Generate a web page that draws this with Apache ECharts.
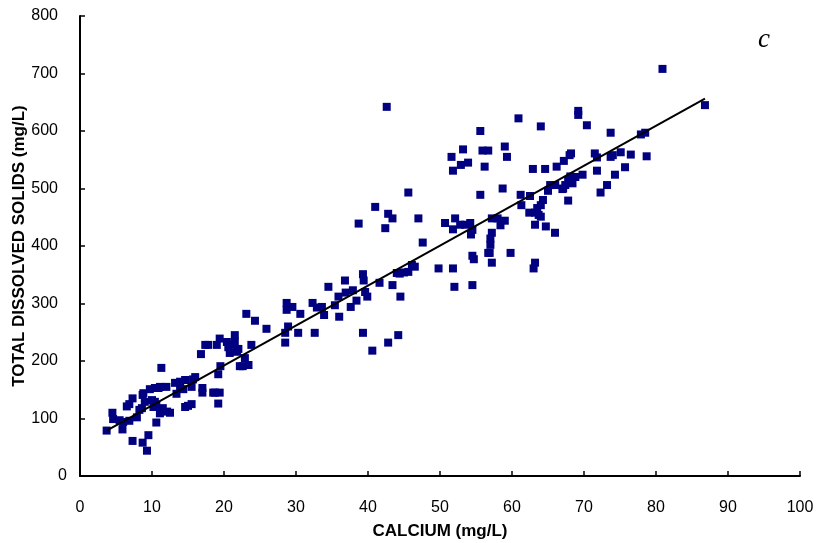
<!DOCTYPE html>
<html>
<head>
<meta charset="utf-8">
<script src="https://cdn.jsdelivr.net/npm/echarts@6/dist/echarts.min.js"></script>
<style>html,body{margin:0;padding:0;background:#fff}#c{width:816px;height:543px}</style>
</head>
<body>
<div id="c"></div>
<script>
// Calcium (mg/L)
const calcium = [3.7,4.5,4.6,5.5,5.9,6.0,6.5,6.85,6.85,7.3,7.3,7.9,8.25,8.6,8.7,8.7,8.8,9.0,9.3,9.5,9.7,10.0,10.2,10.4,10.4,10.6,10.6,10.9,11.1,11.1,11.3,11.5,11.3,12.0,12.1,12.5,13.2,13.4,13.9,13.9,14.35,14.6,14.6,15.0,15.5,15.5,15.7,16.0,16.8,17.0,17.0,17.4,17.8,18.5,18.75,19.0,19.2,19.2,19.4,19.4,19.5,20.4,20.6,20.8,21.1,21.5,21.5,21.8,22.0,22.2,22.6,22.9,23.1,23.4,23.8,24.3,25.9,
28.5,28.5,28.7,28.7,28.9,29.5,30.3,30.6,32.3,32.6,32.9,33.6,33.9,34.5,35.4,35.9,36.0,36.8,36.9,37.6,37.9,38.4,38.7,39.3,39.4,39.6,39.9,39.3,40.6,41.0,41.6,42.4,42.6,42.8,42.8,43.4,43.4,44.0,44.2,44.4,44.5,45.0,45.6,45.6,46.1,46.5,47.0,47.6,
49.8,50.7,51.6,51.8,51.8,51.8,52.0,52.1,52.8,52.9,53.2,53.5,53.9,54.2,54.3,54.5,54.5,54.7,54.5,55.6,55.6,55.9,56.2,56.7,56.7,56.9,57.0,57.0,57.2,57.2,57.2,58.0,58.4,58.7,59.0,59.0,59.3,59.8,60.9,61.2,61.3,62.4,62.5,62.9,63.0,63.2,63.2,63.2,63.5,63.7,64.0,64.0,64.0,64.3,64.6,64.7,65.0,65.3,65.97,66.0,66.2,67.0,67.1,67.2,67.4,67.8,67.8,68.0,68.1,68.2,68.4,68.8,69.2,69.2,69.8,70.4,71.5,71.8,71.8,72.3,73.2,73.7,73.7,74.0,74.3,75.1,75.7,76.5,77.9,78.5,78.7,80.9,86.8];
// Total dissolved solids (mg/L)
const tds = [79,110,99,97,81,94,121,96,125,135,61,102,115,118,58,141,144,129,44,71,151,132,120,153,129,93,122,153,155,109,188,118,115,155,112,110,162,143,153,164,151,167,120,122,125,155,168,172,212,153,145,228,228,145,145,228,126,177,145,239,191,233,224,214,228,245,234,216,221,191,191,205,282,193,228,270,256,
232,249,289,301,260,294,249,282,301,249,293,294,280,329,297,312,277,340,319,294,323,305,439,351,340,320,312,249,218,468,336,431,642,456,232,448,332,353,245,352,312,354,355,493,367,364,448,406,
361,440,555,531,429,361,329,448,437,541,568,437,545,440,420,428,383,377,332,600,489,566,538,566,388,388,413,402,423,371,448,448,436,500,444,573,555,388,622,489,471,458,487,534,361,371,458,437,466,454,471,451,608,480,534,434,496,506,423,506,538,499,500,548,506,515,479,558,521,561,509,520,635,628,524,610,561,554,531,493,506,555,597,558,524,563,537,559,594,597,556,708,645];
// Trend line
const trendSlope = 6.95;
const trendIntercept = 53;
const xTicks = [0,10,20,30,40,50,60,70,80,90,100];
const yTicks = [0,100,200,300,400,500,600,700,800];

const points = calcium.map((x, i) => [x, tds[i]]);
const xMin = Math.min(...calcium), xMax = Math.max(...calcium);
const trend = [[xMin, trendSlope * xMin + trendIntercept], [xMax, trendSlope * xMax + trendIntercept]];

const labelFont = {color: '#000', fontFamily: 'Liberation Sans', fontSize: 16};
const chart = echarts.init(document.getElementById('c'));
const axisCommon = {
  axisLine: {show: true, onZero: false, lineStyle: {color: '#000', width: 2}},
  axisTick: {show: true, inside: true, length: 5, lineStyle: {color: '#000', width: 1.5}},
  splitLine: {show: false},
  axisLabel: Object.assign({margin: 24}, labelFont),
  nameMoveOverlap: false,
  nameTextStyle: {color: '#000', fontFamily: 'Liberation Sans', fontSize: 17, fontWeight: 'bold'}
};
chart.setOption({
  animation: false,
  backgroundColor: '#fff',
  grid: {left: 80, right: 16, top: 16, bottom: 67, containLabel: false, outerBoundsMode: 'none'},
  title: {
    text: 'c', left: 753, top: 21,
    textStyle: {fontFamily: 'Liberation Serif', fontStyle: 'italic', fontSize: 27, fontWeight: 'normal', color: '#000'}
  },
  xAxis: Object.assign({}, axisCommon, {
    type: 'value', min: xTicks[0], max: xTicks[xTicks.length - 1], interval: 10,
    name: 'CALCIUM (mg/L)', nameLocation: 'middle', nameGap: 47
  }),
  yAxis: Object.assign({}, axisCommon, {
    type: 'value', min: yTicks[0], max: yTicks[yTicks.length - 1], interval: 100,
    name: 'TOTAL DISSOLVED SOLIDS (mg/L)', nameLocation: 'middle', nameGap: 52,
    axisLabel: Object.assign({
      margin: 13,
      formatter: v => v === 0 ? '{z|0}' : '{n|' + v + '}',
      rich: {
        z: Object.assign({}, labelFont),
        n: Object.assign({padding: [0, 9, 0, 0]}, labelFont)
      }
    }, labelFont)
  }),
  series: [
    {type: 'scatter', data: points, symbol: 'rect', symbolSize: 8, itemStyle: {color: '#000080', opacity: 1}, z: 2},
    {type: 'line', data: trend, symbol: 'none', lineStyle: {color: '#000', width: 2}, z: 3}
  ]
});
</script>
</body>
</html>
